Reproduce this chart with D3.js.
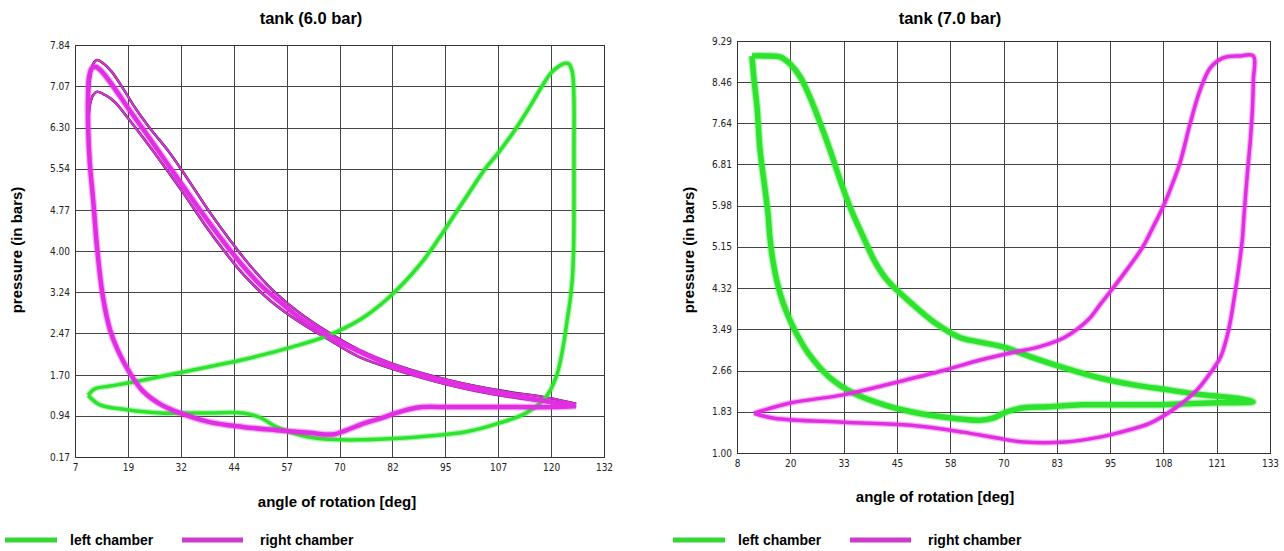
<!DOCTYPE html>
<html lang="en">
<head>
<meta charset="UTF-8">
<title>tank pressure loops</title>
<script src="https://cdn.jsdelivr.net/npm/d3@7"></script>
<style>
  body { margin:0; background:#fff; }
  svg text { font-family: "Liberation Sans", Arial, sans-serif; }
  .axis text { font-family: "Liberation Sans Narrow", "DejaVu Sans Condensed", sans-serif; font-size:10px; fill:#222; }
  .axis line { stroke:#444; stroke-width:1; shape-rendering:crispEdges; }
</style>
</head>
<body>
<script>
// ---- tank 6.0 bar ----
const xTicks6 = [7, 19.5, 32, 44.5, 57, 69.5, 82, 94.5, 107, 119.5, 132];
const xLabels6 = ["7","19","32","44","57","70","82","95","107","120","132"];
const yTicks6 = [0.17, 0.94, 1.70, 2.47, 3.24, 4.00, 4.77, 5.54, 6.30, 7.07, 7.84];

// left chamber (green) [deg, bar]
const left6 = [[10.1,1.32],[11.7,1.44],[15.3,1.49],[23.0,1.60],[34.8,1.79],[46.6,1.98],[58.4,2.22],[66.4,2.42],[74.2,2.72],[81.3,3.15],[88.4,3.74],[93.1,4.25],[96.6,4.67],[100.2,5.10],[103.7,5.51],[107.2,5.85],[110.8,6.24],[114.3,6.67],[117.1,7.04],[119.5,7.32],[121.4,7.45],[122.8,7.50],[123.7,7.49],[124.5,7.34],[124.9,6.82],[124.9,5.89],[124.9,4.58],[124.8,4.00],[124.5,3.47],[124.0,3.09],[123.3,2.72],[122.2,2.16],[120.7,1.66],[118.3,1.29],[113.6,0.99],[107.2,0.80],[99.5,0.64],[90.7,0.56],[83.7,0.52],[74.2,0.49],[70.2,0.49],[64.1,0.52],[60.1,0.58],[54.6,0.73],[50.6,0.91],[46.6,0.99],[38.8,0.99],[27.1,0.99],[19.3,1.05],[12.9,1.14],[10.1,1.32]];

// right chamber (magenta), mean cycle
const right6 = [[125.4,1.12],[121.4,1.17],[115.0,1.25],[107.2,1.36],[100.9,1.45],[94.7,1.57],[87.7,1.71],[82.0,1.86],[75.9,2.07],[69.5,2.31],[64.8,2.52],[60.1,2.76],[55.4,3.06],[50.6,3.39],[45.9,3.80],[41.2,4.27],[36.5,4.77],[32.2,5.25],[28.2,5.70],[24.2,6.15],[20.4,6.57],[17.6,6.89],[15.3,7.15],[13.4,7.34],[12.0,7.43],[11.0,7.41],[10.3,7.23],[10.1,6.91],[10.1,6.31],[10.5,5.64],[11.3,4.95],[12.2,4.08],[13.6,3.15],[15.3,2.53],[17.1,2.16],[20.0,1.73],[23.0,1.40],[27.0,1.16],[31.8,0.99],[38.8,0.82],[46.6,0.73],[54.6,0.67],[62.4,0.62],[67.9,0.59],[71.2,0.67],[75.4,0.80],[79.6,0.90],[82.9,0.99],[86.0,1.06],[89.1,1.10],[95.4,1.10],[107.2,1.10],[119.7,1.10],[125.4,1.12]];
// right chamber, highest and lowest cycles (expansion part)
const right6Hi = [[10.1,6.63],[10.5,7.19],[11.3,7.49],[12.2,7.56],[13.8,7.49],[15.7,7.34],[18.6,7.00],[21.2,6.67],[24.7,6.29],[29.4,5.83],[34.1,5.29],[38.8,4.73],[43.6,4.21],[48.3,3.74],[54.2,3.24],[60.1,2.85],[67.1,2.48],[74.2,2.16],[83.7,1.86],[95.4,1.60],[107.2,1.41],[119.0,1.27],[125.4,1.16]];
const right6Lo = [[10.1,6.26],[10.5,6.72],[11.3,6.91],[12.2,6.97],[14.1,6.91],[16.4,6.78],[19.5,6.48],[23.5,6.07],[28.2,5.57],[32.9,5.05],[37.7,4.49],[42.4,3.99],[47.1,3.54],[53.0,3.09],[60.1,2.68],[67.1,2.35],[74.2,2.03],[83.7,1.77],[95.4,1.51],[107.2,1.32],[119.0,1.19],[125.4,1.10]];

// ---- tank 7.0 bar ----
const xTicks7 = [8, 20.5, 33, 45.5, 58, 70.5, 83, 95.5, 108, 120.5, 133];
const xLabels7 = ["8","20","33","45","58","70","83","95","108","121","133"];
const yTicks7 = [1.00, 1.83, 2.66, 3.49, 4.32, 5.15, 5.98, 6.81, 7.64, 8.46, 9.29];

const left7 = [[11.5,8.99],[14.6,8.99],[18.1,8.97],[20.4,8.83],[22.8,8.57],[25.1,8.16],[27.5,7.64],[29.8,7.10],[32.2,6.49],[34.5,5.95],[37.6,5.35],[40.4,4.84],[43.2,4.48],[48.8,4.02],[54.4,3.62],[60.1,3.33],[65.0,3.23],[70.6,3.13],[77.0,2.93],[84.9,2.71],[93.1,2.51],[101.1,2.37],[109.1,2.27],[117.1,2.17],[125.4,2.10],[129.0,2.03],[121.0,2.01],[113.1,1.99],[105.1,1.97],[97.1,1.97],[88.9,1.97],[80.9,1.93],[75.3,1.91],[71.3,1.83],[68.0,1.70],[65.0,1.66],[56.8,1.72],[48.8,1.83],[42.5,1.97],[35.2,2.21],[29.6,2.53],[24.7,3.01],[22.8,3.27],[20.7,3.62],[18.8,4.02],[17.4,4.44],[16.4,4.88],[15.7,5.35],[15.3,5.79],[14.6,6.29],[13.4,7.10],[12.7,7.96],[12.0,8.51],[11.5,8.99]];

const right7 = [[12.0,1.80],[20.7,2.01],[32.9,2.17],[44.8,2.41],[56.8,2.67],[65.0,2.87],[73.0,3.03],[78.6,3.13],[84.9,3.33],[90.6,3.70],[93.1,3.98],[96.2,4.32],[99.7,4.72],[103.2,5.15],[105.6,5.55],[107.9,5.95],[110.0,6.39],[111.9,6.84],[114.3,7.64],[116.6,8.30],[119.0,8.75],[122.0,8.95],[126.0,8.99],[129.1,8.99],[129.1,8.51],[128.9,7.96],[128.4,7.30],[127.7,6.63],[127.0,5.89],[126.5,5.29],[125.6,4.68],[124.9,4.28],[123.3,3.48],[121.4,2.93],[119.0,2.61],[115.9,2.27],[111.2,1.93],[104.9,1.60],[97.1,1.40],[93.1,1.32],[84.9,1.22],[75.3,1.22],[69.0,1.30],[61.0,1.42],[48.8,1.56],[32.9,1.62],[16.7,1.70],[12.0,1.80]];

const GREEN = "#2ee32e", MAGENTA = "#e22ee2";

const svg = d3.select("body").append("svg")
    .attr("width", 1284).attr("height", 551);

function panel(p) {
    const x = d3.scaleLinear().domain([p.xTicks[0], p.xTicks[p.xTicks.length-1]]).range([p.left, p.right]);
    const y = d3.scaleLinear().domain([p.yTicks[0], p.yTicks[p.yTicks.length-1]]).range([p.bottom, p.top]);
    const g = svg.append("g");

    g.append("g").attr("class", "axis")
        .attr("transform", "translate(0," + p.bottom + ")")
        .call(d3.axisBottom(x).tickValues(p.xTicks).tickSize(-(p.bottom - p.top)).tickPadding(7)
            .tickFormat((d, i) => p.xLabels[i]));
    g.append("g").attr("class", "axis")
        .attr("transform", "translate(" + p.left + ",0)")
        .call(d3.axisLeft(y).tickValues(p.yTicks).tickSize(-(p.right - p.left)).tickPadding(5)
            .tickFormat(d3.format(".2f")));
    g.selectAll(".domain").remove();
    g.append("rect").attr("x", p.left).attr("y", p.top)
        .attr("width", p.right - p.left).attr("height", p.bottom - p.top)
        .attr("fill", "none").attr("stroke", "#333").attr("shape-rendering", "crispEdges");

    const line = d3.line().x(d => x(d[0])).y(d => y(d[1])).curve(d3.curveCatmullRom.alpha(0.5));

    // extra cycles, thin dark edge
    (p.extra || []).forEach(c => {
        g.append("path").attr("d", line(c)).attr("fill", "none").attr("stroke", "#222").attr("stroke-width", 2.6);
        g.append("path").attr("d", line(c)).attr("fill", "none").attr("stroke", MAGENTA).attr("stroke-width", 1.9);
    });
    p.series.forEach(s => {
        g.append("path").attr("d", line(s.data)).attr("fill", "none")
            .attr("stroke", s.color).attr("stroke-opacity", 0.35).attr("stroke-width", s.width + 2.5);
        g.append("path").attr("d", line(s.data)).attr("fill", "none")
            .attr("stroke", s.color).attr("stroke-width", s.width).attr("stroke-linejoin", "round");
    });

    g.append("text").attr("x", p.titleX).attr("y", 24).attr("text-anchor", "middle")
        .attr("font-size", 16.5).attr("font-weight", "bold").text(p.title);
    g.append("text").attr("transform", "translate(" + p.yLabelX + ",250) rotate(-90)")
        .attr("text-anchor", "middle").attr("font-size", 15).attr("font-weight", "bold")
        .text("pressure (in bars)");
    g.append("text").attr("x", p.xLabelX).attr("y", p.xLabelY).attr("text-anchor", "middle")
        .attr("font-size", 15).attr("font-weight", "bold").text("angle of rotation [deg]");

    // legend
    const lg = g.append("g").attr("transform", "translate(" + p.legendX + ",540)");
    lg.append("line").attr("x1", 0).attr("x2", 52).attr("stroke", "#37d637").attr("stroke-width", 5);
    lg.append("text").attr("x", 65).attr("y", 5).attr("font-size", 14).attr("font-weight", "bold").text("left chamber");
    lg.append("line").attr("x1", 177).attr("x2", 238).attr("stroke", "#cc3ccc").attr("stroke-width", 5);
    lg.append("text").attr("x", 255).attr("y", 5).attr("font-size", 14).attr("font-weight", "bold").text("right chamber");
}

panel({
    left: 75, right: 604, top: 45, bottom: 457,
    xTicks: xTicks6, xLabels: xLabels6, yTicks: yTicks6,
    title: "tank (6.0 bar)", titleX: 311, yLabelX: 22, xLabelX: 337, xLabelY: 507, legendX: 5,
    extra: [right6Hi, right6Lo],
    series: [
        {data: left6, color: GREEN, width: 3.5},
        {data: right6, color: MAGENTA, width: 4.5}
    ]
});

panel({
    left: 737, right: 1270, top: 41, bottom: 453,
    xTicks: xTicks7, xLabels: xLabels7, yTicks: yTicks7,
    title: "tank (7.0 bar)", titleX: 950, yLabelX: 694, xLabelX: 935, xLabelY: 502, legendX: 673,
    series: [
        {data: left7, color: GREEN, width: 5.5},
        {data: right7, color: MAGENTA, width: 3.5}
    ]
});
</script>
</body>
</html>
